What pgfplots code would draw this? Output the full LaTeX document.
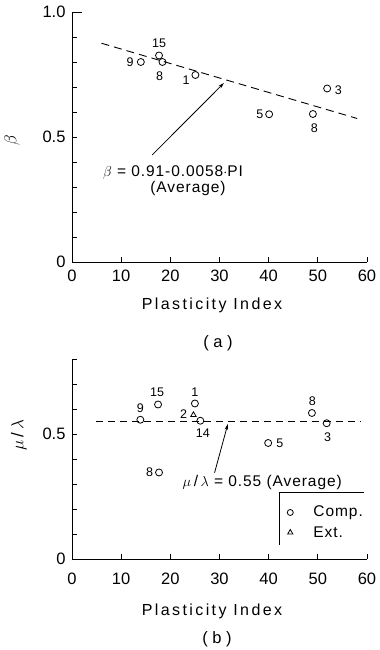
\documentclass[border=0pt]{standalone}
\usepackage{pgfplots}
\pgfplotsset{compat=1.18}
\usepackage{fontspec}
\setmainfont{Liberation Sans}
\usetikzlibrary{arrows.meta}
\newcommand\tk{\fontsize{16.5}{16.5}\selectfont}
\newcommand\tx{\fontsize{15.5}{15.5}\selectfont\addfontfeatures{LetterSpace=6}}
\newcommand\dl{\fontsize{12.5}{12.5}\selectfont}
\begin{document}
\begin{tikzpicture}
\path (0pt,0pt) rectangle (375pt,650pt);
\pgfplotsset{
 base/.style={scale only axis, width=295pt, xmin=0, xmax=60, clip=false,
  axis lines*=left, axis line style={line width=0.9pt},
  xtick={0,10,...,60}, xticklabels={0,10,20,30,40,50,60},
  tick align=inside, major tick length=5pt,
  tick style={line width=0.8pt, black},
  yticklabel style={font=\tk, xshift=-3pt},
  mark options={solid, line width=0.8pt}},
}
% (a)
\begin{axis}[base, at={(72pt,388pt)}, anchor=south west, height=250pt,
  xticklabel style={font=\tk, anchor=center, yshift=-14pt},
  ymin=0, ymax=1.0, ytick={0,0.1,...,1.0},
  yticklabels={0,,,,,0.5,,,,,1.0},
  extra y ticks={1.0}, extra y tick labels={}, extra y tick style={major tick length=10pt}]
\addplot[black, line width=0.9pt, dash pattern=on 8pt off 5pt] coordinates {(6,0.875) (58,0.574)};
\addplot[only marks, mark=o, mark size=3.5pt, black] coordinates {
(14,0.80) (17.7,0.826) (18.4,0.80) (25.1,0.748) (40.1,0.591) (49.0,0.592) (51.9,0.694)};
\node[font=\dl] at (axis cs:11.8,0.80) {9};
\node[font=\dl] at (axis cs:17.7,0.876) {15};
\node[font=\dl] at (axis cs:17.8,0.743) {8};
\node[font=\dl] at (axis cs:23.2,0.727) {1};
\node[font=\dl] at (axis cs:38.2,0.591) {5};
\node[font=\dl] at (axis cs:49.3,0.536) {8};
\node[font=\dl] at (axis cs:54.2,0.686) {3};
\draw[line width=0.8pt, -{Stealth[length=6pt,width=3.5pt]}] (axis cs:16.3,0.428) -- (axis cs:30.9,0.716);
\node[font=\tx, anchor=west] at (axis cs:5.6,0.358) {$\beta$ = 0.91-0.0058$\cdot$PI};
\node[font=\tx] at (axis cs:23.6,0.293) {(Average)};
\end{axis}
% (b)
\begin{axis}[base, at={(72pt,91pt)}, anchor=south west, height=200pt,
  xticklabel style={font=\tk, anchor=center, yshift=-20pt},
  ymin=0, ymax=0.8, ytick={0,0.1,...,0.8},
  yticklabels={0,,,,,0.5,,,}]
\addplot[black, line width=0.9pt, dash pattern=on 7pt off 5pt] coordinates {(4.8,0.549) (58.6,0.549)};
\addplot[only marks, mark=o, mark size=3.5pt, black] coordinates {
(13.9,0.557) (17.5,0.618) (25.0,0.622) (26.1,0.553) (17.7,0.346) (39.9,0.464) (48.8,0.584) (51.8,0.543)};
\addplot[only marks, mark=triangle, mark size=3.2pt, black] coordinates {(24.7,0.576)};
\node[font=\dl] at (axis cs:13.9,0.604) {9};
\node[font=\dl] at (axis cs:17.3,0.667) {15};
\node[font=\dl] at (axis cs:25.0,0.668) {1};
\node[font=\dl] at (axis cs:22.7,0.578) {2};
\node[font=\dl] at (axis cs:26.6,0.502) {14};
\node[font=\dl] at (axis cs:15.8,0.346) {8};
\node[font=\dl] at (axis cs:42.3,0.464) {5};
\node[font=\dl] at (axis cs:48.9,0.631) {8};
\node[font=\dl] at (axis cs:52.0,0.488) {3};
\draw[line width=0.8pt, -{Stealth[length=6pt,width=3.5pt]}] (axis cs:29.0,0.345) -- (axis cs:31.7,0.54);
\node[font=\tx, anchor=west] at (axis cs:21.8,0.305) {$\mu$\,/\,$\lambda$ = 0.55 (Average)};
\draw[line width=0.8pt] (axis cs:42.1,0.056) -- (axis cs:42.1,0.268) -- (axis cs:59.4,0.268);
\addplot[only marks, mark=o, mark size=3pt, black] coordinates {(44.4,0.186)};
\addplot[only marks, mark=triangle, mark size=3pt, black] coordinates {(44.4,0.106)};
\node[font=\tx, anchor=west] at (axis cs:48.4,0.186) {Comp.};
\node[font=\tx, anchor=west] at (axis cs:48.4,0.106) {Ext.};
\end{axis}
\node[font=\fontsize{16}{16}\selectfont\addfontfeatures{LetterSpace=15}] at (212pt,345pt) {Plasticity Index};
\node[font=\fontsize{16}{16}\selectfont\addfontfeatures{LetterSpace=15}] at (212pt,39pt) {Plasticity Index};
\node[font=\tk] at (218pt,307pt) {( a )};
\node[font=\tk] at (217pt,11pt) {( b )};
\node[font=\fontsize{18}{18}\selectfont, rotate=90] at (12pt,510pt) {$\beta$};
\node[font=\fontsize{17}{17}\selectfont, rotate=90] at (19pt,215pt) {$\mu$\,/\,$\lambda$};
\end{tikzpicture}
\end{document}
